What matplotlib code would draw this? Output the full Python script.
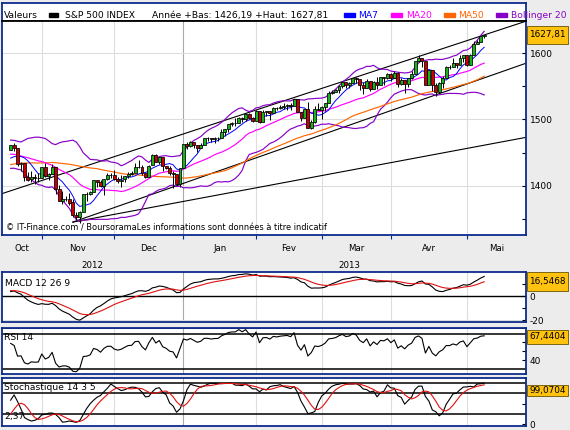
import numpy as np
import pandas as pd
import matplotlib
matplotlib.use("Agg")
import matplotlib.pyplot as plt
import matplotlib.transforms as mtransforms
from matplotlib.patches import Rectangle

plt.rcParams["font.family"] = "DejaVu Sans"

# S&P 500 daily candles, 17 Oct 2012 -> 8 May 2013
first_day = "2012-10-17"
last_day = "2013-05-08"
closed_days = ["2012-10-29", "2012-10-30", "2012-11-22", "2012-12-25",
               "2013-01-01", "2013-01-21", "2013-02-18", "2013-03-29"]

opens = [1454.2, 1460.9, 1457.3, 1433.2, 1433.7, 1413.2, 1409.7, 1413.0, 1411.0,
         1412.2, 1427.6, 1414.0, 1417.3, 1428.3, 1394.5, 1377.6, 1379.9, 1380.0, 1374.6,
         1355.4, 1353.4, 1359.9, 1386.8, 1387.8, 1391.0, 1409.2, 1406.3, 1398.8, 1410.0,
         1416.0, 1416.3, 1409.5, 1407.1, 1409.4, 1413.9, 1418.1, 1418.6, 1427.8, 1428.5,
         1419.5, 1413.5, 1430.5, 1446.8, 1435.8, 1443.7, 1430.2, 1426.7, 1419.8, 1418.1,
         1402.4, 1426.2, 1462.4, 1459.4, 1466.5, 1461.9, 1457.2, 1461.0, 1472.1, 1472.1,
         1470.7, 1472.3, 1472.6, 1481.0, 1486.0, 1492.6, 1494.8, 1494.8, 1503.0, 1500.2,
         1507.8, 1502.0, 1498.1, 1513.2, 1495.7, 1511.3, 1512.1, 1509.4, 1517.9, 1517.0,
         1519.4, 1520.3, 1521.4, 1519.8, 1530.9, 1512.0, 1502.4, 1515.6, 1487.9, 1496.9,
         1516.0, 1514.7, 1518.2, 1525.2, 1539.8, 1541.5, 1544.3, 1551.2, 1556.2, 1552.5,
         1554.5, 1563.2, 1560.7, 1552.1, 1548.3, 1558.7, 1545.9, 1556.9, 1551.7, 1563.8,
         1562.9, 1569.2, 1562.2, 1570.3, 1553.7, 1560.0, 1553.3, 1563.1, 1568.6, 1587.7,
         1593.3, 1588.8, 1552.4, 1574.6, 1552.0, 1541.6, 1555.3, 1562.5, 1578.8, 1578.8,
         1585.2, 1582.3, 1593.6, 1597.6, 1582.8, 1597.6, 1614.4, 1617.6, 1626.0]
highs = [1462.2, 1464.0, 1457.3, 1435.5, 1433.7, 1420.0, 1422.1, 1417.1, 1418.8,
         1428.4, 1434.3, 1419.9, 1433.4, 1428.3, 1401.2, 1391.4, 1384.9, 1388.8, 1380.1,
         1360.6, 1362.0, 1386.9, 1389.8, 1391.3, 1409.2, 1409.2, 1409.0, 1410.0, 1419.7,
         1418.9, 1423.7, 1413.1, 1415.6, 1414.0, 1420.3, 1421.6, 1434.3, 1438.6, 1431.4,
         1419.5, 1430.7, 1448.0, 1447.8, 1443.7, 1443.7, 1430.2, 1429.4, 1422.8, 1418.1,
         1426.7, 1462.4, 1465.5, 1467.9, 1466.5, 1461.9, 1464.7, 1472.3, 1472.8, 1472.1,
         1473.3, 1473.0, 1485.2, 1486.0, 1492.6, 1496.1, 1502.3, 1503.3, 1503.2, 1509.3,
         1509.9, 1504.2, 1514.4, 1513.2, 1515.0, 1512.5, 1512.9, 1518.3, 1518.3, 1522.3,
         1524.7, 1523.1, 1524.2, 1530.9, 1530.9, 1512.0, 1515.6, 1525.8, 1499.0, 1520.1,
         1525.3, 1520.0, 1525.3, 1543.5, 1545.3, 1545.8, 1552.5, 1556.3, 1556.8, 1556.4,
         1563.3, 1563.6, 1560.7, 1557.3, 1561.6, 1558.7, 1557.7, 1564.9, 1564.0, 1564.1,
         1570.3, 1570.6, 1573.7, 1571.5, 1562.6, 1560.0, 1563.1, 1573.9, 1589.1, 1597.4,
         1593.3, 1588.8, 1575.4, 1574.6, 1554.4, 1555.9, 1565.6, 1580.6, 1583.0, 1592.6,
         1585.8, 1596.7, 1597.6, 1597.6, 1598.6, 1618.5, 1619.8, 1626.0, 1627.8]
lows = [1453.4, 1452.6, 1429.9, 1422.1, 1407.6, 1407.1, 1405.1, 1403.3, 1406.0,
        1412.2, 1412.9, 1408.1, 1417.3, 1388.1, 1377.5, 1373.0, 1377.2, 1370.8, 1352.5,
        1348.1, 1343.4, 1359.9, 1377.0, 1386.4, 1391.0, 1398.0, 1397.7, 1385.4, 1409.0,
        1411.6, 1408.5, 1403.6, 1398.2, 1405.9, 1410.9, 1415.6, 1418.6, 1426.8, 1416.0,
        1411.9, 1413.5, 1430.5, 1435.8, 1432.8, 1422.6, 1424.7, 1416.4, 1396.1, 1401.6,
        1398.1, 1426.2, 1455.5, 1459.0, 1456.6, 1451.6, 1457.2, 1461.0, 1467.6, 1465.7,
        1463.8, 1467.2, 1472.6, 1475.8, 1481.2, 1489.9, 1489.5, 1494.8, 1496.3, 1498.1,
        1500.1, 1496.7, 1498.1, 1495.0, 1495.7, 1504.9, 1498.5, 1509.4, 1513.6, 1515.6,
        1515.6, 1514.0, 1514.1, 1519.8, 1511.4, 1497.3, 1502.4, 1487.9, 1485.0, 1494.9,
        1514.5, 1501.5, 1512.3, 1525.2, 1538.1, 1541.5, 1539.4, 1547.4, 1548.2, 1548.3,
        1554.5, 1555.7, 1545.1, 1538.6, 1548.3, 1543.6, 1545.9, 1546.2, 1551.7, 1551.9,
        1561.1, 1558.5, 1562.2, 1549.8, 1552.5, 1539.5, 1548.6, 1560.9, 1568.6, 1586.2,
        1580.0, 1552.3, 1552.4, 1543.7, 1536.0, 1539.4, 1548.2, 1562.5, 1575.8, 1578.8,
        1577.6, 1582.3, 1586.5, 1581.3, 1582.8, 1597.6, 1614.2, 1616.6, 1622.5]
closes = [1460.9, 1457.3, 1433.2, 1433.8, 1413.1, 1408.8, 1413.0, 1411.9, 1412.2,
          1427.6, 1414.2, 1417.3, 1428.4, 1394.5, 1377.5, 1379.9, 1380.0, 1374.5, 1355.5,
          1353.3, 1359.9, 1386.9, 1387.8, 1391.0, 1409.2, 1406.3, 1398.9, 1409.9, 1416.0,
          1416.2, 1409.5, 1407.1, 1409.3, 1413.9, 1418.1, 1418.6, 1427.8, 1428.5, 1419.5,
          1413.6, 1430.4, 1446.8, 1435.8, 1443.7, 1430.2, 1426.7, 1419.8, 1418.1, 1402.4,
          1426.2, 1462.4, 1459.4, 1466.5, 1461.9, 1457.2, 1461.0, 1472.1, 1472.1, 1470.7,
          1472.3, 1472.6, 1480.9, 1486.0, 1492.6, 1494.8, 1494.8, 1503.0, 1500.2, 1507.8,
          1502.0, 1498.1, 1513.2, 1495.7, 1511.3, 1512.1, 1509.4, 1517.9, 1517.0, 1519.4,
          1520.3, 1521.4, 1519.8, 1530.9, 1512.0, 1502.4, 1515.6, 1487.9, 1496.9, 1516.0,
          1514.7, 1518.2, 1525.2, 1539.8, 1541.5, 1544.3, 1551.2, 1556.2, 1552.5, 1554.5,
          1563.2, 1560.7, 1552.1, 1548.3, 1558.7, 1545.8, 1556.9, 1551.7, 1563.8, 1562.9,
          1569.2, 1562.2, 1570.3, 1553.7, 1560.0, 1553.3, 1563.1, 1568.6, 1587.7, 1593.4,
          1588.9, 1552.4, 1574.6, 1552.0, 1541.6, 1555.3, 1562.5, 1578.8, 1578.8, 1585.2,
          1582.2, 1593.6, 1597.6, 1582.7, 1597.6, 1614.4, 1617.5, 1626.0, 1627.8]

# closes before the first candle (1 Aug -> 16 Oct 2012), only to warm up the indicators
hist_close = [1375.1, 1365.0, 1391.0, 1394.2, 1401.4, 1402.2, 1402.8, 1405.9, 1404.1,
              1403.9, 1405.5, 1415.5, 1418.2, 1418.1, 1413.2, 1413.5, 1402.1, 1411.1,
              1410.4, 1409.3, 1410.5, 1399.5, 1406.6, 1404.9, 1403.4, 1432.1, 1437.9,
              1429.1, 1433.6, 1436.6, 1460.0, 1465.8, 1461.2, 1459.3, 1461.1, 1460.3,
              1460.2, 1456.9, 1441.6, 1433.3, 1447.2, 1440.7, 1444.5, 1445.8, 1451.0,
              1461.4, 1460.9, 1455.9, 1441.5, 1432.6, 1432.8, 1428.6, 1440.1, 1454.9]
# highs / lows of the last 20 of those sessions (19 Sep -> 16 Oct)
hist_high = [1465.2, 1461.5, 1467.1, 1460.7, 1463.2, 1441.6, 1450.2, 1447.2, 1457.1, 1451.5,
             1453.0, 1463.1, 1471.0, 1460.9, 1455.9, 1442.0, 1443.9, 1438.4, 1441.3, 1455.5]
hist_low = [1458.5, 1450.0, 1459.5, 1452.1, 1441.6, 1430.5, 1433.3, 1435.6, 1440.9, 1439.0,
            1439.5, 1451.0, 1456.9, 1453.1, 1441.2, 1430.6, 1432.3, 1425.5, 1427.2, 1440.3]

month_labels = ["Oct", "Nov", "Dec", "Jan", "Fev", "Mar", "Avr", "Mai"]
year_labels = ["2012", "2013"]

# trend lines drawn on the chart: (session index, price) at each end
trend_lines = [([-2.5, 149.1], [1388.0, 1648.5]),
               ([18, 149.1], [1345.0, 1585.0]),
               ([18, 149.1], [1345.0, 1473.0])]

last_values = ["1627,81", "16,5468", "67,4404", "99,0704"]

W, H = 570, 430
BG = "#ECECEC"
BORDER = "#0D2B8C"
GRID = "#DDDDDD"
YELLOW = "#FFC20E"
XLIM = (-2.5, 149.1)


def px_box(x0, y0, x1, y1):
    return [x0 / W, 1 - y1 / H, (x1 - x0) / W, (y1 - y0) / H]


# ---- indicators ----
n0 = len(hist_close)
pad = [np.nan] * (n0 - len(hist_high))
c_all = pd.Series(hist_close + closes)
h_all = pd.Series(pad + hist_high + highs)
l_all = pd.Series(pad + hist_low + lows)

ma7 = c_all.rolling(7).mean()[n0:]
ma20 = c_all.rolling(20).mean()
sd20 = c_all.rolling(20).std(ddof=0)
boll_up = (ma20 + 2 * sd20)[n0:]
boll_dn = (ma20 - 2 * sd20)[n0:]
ma20 = ma20[n0:]
ma50 = c_all.rolling(50).mean()[n0:]

macd_all = c_all.ewm(span=12, adjust=False).mean() - c_all.ewm(span=26, adjust=False).mean()
macd = macd_all[n0:]
signal = macd_all.ewm(span=9, adjust=False).mean()[n0:]

delta = c_all.diff()
gain = delta.clip(lower=0).ewm(alpha=1 / 14, adjust=False).mean()
loss = (-delta.clip(upper=0)).ewm(alpha=1 / 14, adjust=False).mean()
rsi = (100 - 100 / (1 + gain / loss))[n0:]

hh = h_all.rolling(14).max()
ll = l_all.rolling(14).min()
k_fast = 100 * (c_all - ll) / (hh - ll)
stoch_k = k_fast.rolling(3).mean()
stoch_d = stoch_k.rolling(5).mean()[n0:]
stoch_k = stoch_k[n0:]

sessions = pd.bdate_range(first_day, last_day).drop(pd.to_datetime(closed_days))
x = np.arange(len(closes))
starts = [i for i in range(1, len(sessions)) if sessions[i].month != sessions[i - 1].month]

# ---- figure ----
fig = plt.figure(figsize=(W / 100, H / 100), dpi=100, facecolor=BG)


def panel(y0, y1):
    ax = fig.add_axes(px_box(2, y0, 526, y1))
    ax.set_facecolor("white")
    ax.set_xlim(*XLIM)
    for s in ax.spines.values():
        s.set_color(BORDER)
        s.set_linewidth(1.3)
    ax.set_xticks([])
    ax.yaxis.tick_right()
    ax.tick_params(axis="y", direction="in", length=3, width=0.8, pad=2.5,
                   labelsize=6.5, colors="black")
    for i in starts:
        ax.axvline(i, color="#A8A8A8" if sessions[i].month == 1 else GRID, lw=0.8, zorder=0)
    return ax


# header strip
hdr = fig.add_axes(px_box(2, 3, 526, 21))
hdr.set_xlim(2, 526)
hdr.set_ylim(21, 3)
hdr.set_xticks([])
hdr.set_yticks([])
for s in hdr.spines.values():
    s.set_color(BORDER)
    s.set_linewidth(1.3)
hdr.spines["bottom"].set_color("black")
hdr.spines["bottom"].set_linewidth(1.2)

head_fs = 6.6
hdr.text(3.6, 18.4, "Valeurs", fontsize=head_fs, va="baseline")
hdr.add_patch(Rectangle((49, 12.5), 9, 4, color="black"))
hdr.text(64.7, 18.4, "S&P 500 INDEX", fontsize=head_fs, va="baseline")
hdr.text(152, 18.4, "Année +Bas: 1426,19 +Haut: 1627,81", fontsize=head_fs, va="baseline")
legend_items = [("MA7", "#0000FF", 343.6), ("MA20", "#FF00FF", 391),
                ("MA50", "#FF6600", 443.6), ("Bollinger 20", "#8800C8", 496)]
for name, col, lx in legend_items:
    hdr.add_patch(Rectangle((lx, 12.5), 11, 4, color=col))
    hdr.text(lx + 15, 18.4, name, fontsize=head_fs, va="baseline", color=col, clip_on=False)

# main price panel
ax = panel(21, 235)
ax.set_ylim(1325.5, 1648.8)
price_ticks = list(range(1350, 1601, 50))
ax.set_yticks(price_ticks)
ax.set_yticklabels([str(v) if v % 100 == 0 else "" for v in price_ticks])
for v in (1400, 1500, 1600):
    ax.axhline(v, color=GRID, lw=0.8, zorder=0)
ax.spines["top"].set_color("black")
ax.set_xticks(starts)
ax.tick_params(axis="x", direction="out", length=3, width=0.8, color=BORDER, labelbottom=False)

for tx, ty in trend_lines:
    ax.plot(tx, ty, color="black", lw=0.8, zorder=2)

ax.plot(x, boll_up, color="#8800C8", lw=0.85, zorder=3)
ax.plot(x, boll_dn, color="#8800C8", lw=0.85, zorder=3)
ax.plot(x, ma50, color="#FF6600", lw=0.85, zorder=3)
ax.plot(x, ma20, color="#FF00FF", lw=0.85, zorder=3)
ax.plot(x, ma7, color="#0000FF", lw=0.7, zorder=3)

o = np.array(opens)
c = np.array(closes)
body_col = np.where(c >= o, "#19B419", "#C80000")
ax.vlines(x, lows, highs, color="black", lw=0.7, zorder=4)
ax.bar(x, np.maximum(np.abs(c - o), 0.3), bottom=np.minimum(o, c), width=0.85,
       color=body_col, edgecolor="black", linewidth=0.55, zorder=5)

ax.text(-1.3, 1333, "© IT-Finance.com / BoursoramaLes informations sont données à titre indicatif",
        fontsize=5.95, va="baseline", zorder=6)

# month / year labels under the price panel
bx = mtransforms.blended_transform_factory(ax.transData, fig.transFigure)
bounds = [XLIM[0]] + starts + [XLIM[1]]
for k, lab in enumerate(month_labels):
    fig.text((bounds[k] + bounds[k + 1]) / 2, 1 - 251.4 / H, lab, transform=bx,
             ha="center", va="baseline", fontsize=6.2)
jan = starts[2]
for lab, cx in zip(year_labels, [(XLIM[0] + jan) / 2, (jan + XLIM[1]) / 2 - 1.5]):
    fig.text(cx, 1 - 267.5 / H, lab, transform=bx, ha="center", va="baseline", fontsize=6.2)

# MACD
am = panel(271.5, 322)
am.set_ylim(-21.4, 20.7)
am.set_yticks([-20, -10, 0, 10])
am.set_yticklabels(["-20", "", "0", ""])
am.axhline(-20, color=GRID, lw=0.8, zorder=0)
am.axhline(0, color="black", lw=1.0, zorder=1)
am.plot(x, macd, color="black", lw=0.8)
am.plot(x, signal, color="#E01010", lw=0.8)
fig.text(5 / W, 1 - 285.7 / H, "MACD 12 26 9", fontsize=6.6, va="baseline")

# RSI
ar = panel(327.5, 373.5)
ar.set_ylim(24.9, 76.8)
ar.set_yticks([40, 50, 60])
ar.set_yticklabels(["40", "", ""])
for v in (76.2, 70, 30):
    ar.axhline(v, color="black", lw=1.1, zorder=1)
ar.plot(x, rsi, color="black", lw=0.8, zorder=2)
fig.text(4.4 / W, 1 - 340 / H, "RSI 14", fontsize=6.6, va="baseline")

# Stochastic
ast = panel(378, 425.5)
ast.set_ylim(-2.4, 111.2)
ast.set_yticks([0, 50])
ast.set_yticklabels(["0", ""])
for v in (100, 75, 25):
    ast.axhline(v, color="black", lw=1.1, zorder=1)
ast.plot(x, stoch_k, color="black", lw=0.8, zorder=2)
ast.plot(x, stoch_d, color="#E01010", lw=0.8, zorder=2)
fig.text(4.4 / W, 1 - 390.5 / H, "Stochastique 14 3 5", fontsize=6.6, va="baseline")
fig.text(4.4 / W, 1 - 419.5 / H, "2,37", fontsize=6.6, va="baseline")

# yellow boxes with the last values
for txt, (y0, y1) in zip(last_values, [(26, 44), (272.3, 290.5), (330.2, 343.6), (384.5, 395.5)]):
    fig.add_artist(Rectangle((527 / W, 1 - y1 / H), 41 / W, (y1 - y0) / H,
                             transform=fig.transFigure, facecolor=YELLOW,
                             edgecolor="#6A5200", lw=0.6))
    fig.text(547.5 / W, 1 - (y0 + y1) / 2 / H, txt, ha="center", va="center", fontsize=6.4)

fig.savefig("out.png", dpi=100, facecolor=BG)
